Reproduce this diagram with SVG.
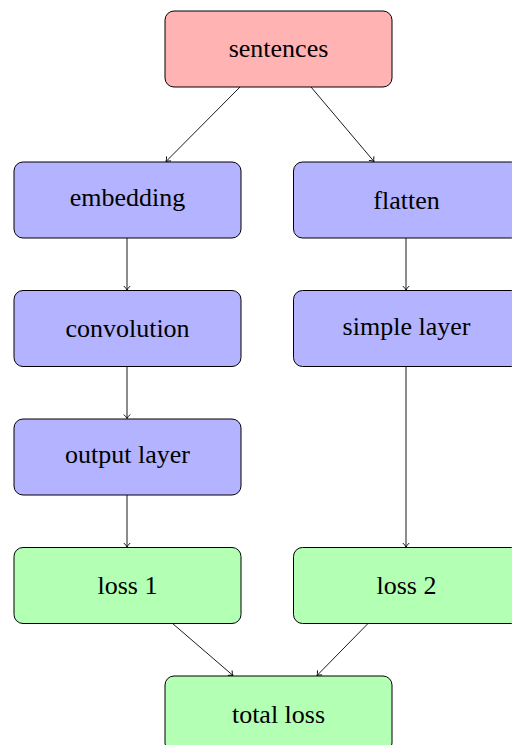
<svg xmlns="http://www.w3.org/2000/svg" width="512" height="745" viewBox="0 0 512 745">
<style>
.box{stroke:#000;stroke-width:1}
.red{fill:#ffb3b3}.blue{fill:#b3b3ff}.green{fill:#b3ffb3}
text{font-family:"Liberation Serif","Times New Roman",serif;font-size:26px;fill:#000;text-anchor:middle}
.edge{stroke:#000;stroke-width:0.9;fill:none;marker-end:url(#arr)}
</style>
<defs>
<marker id="arr" markerUnits="userSpaceOnUse" markerWidth="10" markerHeight="10" viewBox="-6 -5 8 10" refX="0" refY="0" orient="auto">
<path d="M-4,-3.2 Q-1.5,-0.6 0,0 Q-1.5,0.6 -4,3.2" fill="none" stroke="#000" stroke-width="0.9"/>
</marker>
</defs>
<rect width="512" height="745" fill="#fff"/>
<g id="connectors">
<line class="edge" x1="240" y1="87" x2="166" y2="161.5"/>
<line class="edge" x1="311" y1="87" x2="374" y2="161.5"/>
<line class="edge" x1="127" y1="238" x2="127" y2="290"/>
<line class="edge" x1="127" y1="366" x2="127" y2="418.5"/>
<line class="edge" x1="127" y1="494" x2="127" y2="547"/>
<line class="edge" x1="406" y1="238" x2="406" y2="290"/>
<line class="edge" x1="406" y1="366" x2="406" y2="547"/>
<line class="edge" x1="172" y1="623" x2="233" y2="675.5"/>
<line class="edge" x1="368.5" y1="623" x2="317" y2="675.5"/>
</g>
<g id="sentences"><rect class="box red" x="165" y="11" width="227" height="76" rx="9"/><text x="278.5" y="57">sentences</text></g>
<g id="embedding"><rect class="box blue" x="14" y="162" width="227" height="76" rx="9"/><text x="127.5" y="206">embedding</text></g>
<g id="flatten"><rect class="box blue" x="293.5" y="162" width="227" height="76" rx="9"/><text x="406.5" y="209">flatten</text></g>
<g id="convolution"><rect class="box blue" x="14" y="290.5" width="227" height="76" rx="9"/><text x="127.5" y="337">convolution</text></g>
<g id="simple-layer"><rect class="box blue" x="293.5" y="290.5" width="227" height="76" rx="9"/><text x="406.5" y="334.5">simple layer</text></g>
<g id="output-layer"><rect class="box blue" x="14" y="419" width="227" height="76" rx="9"/><text x="127.5" y="463">output layer</text></g>
<g id="loss1"><rect class="box green" x="14" y="547.5" width="227" height="76" rx="9"/><text x="127.5" y="594">loss 1</text></g>
<g id="loss2"><rect class="box green" x="293.5" y="547.5" width="227" height="76" rx="9"/><text x="406.5" y="594">loss 2</text></g>
<g id="total-loss"><rect class="box green" x="165" y="676" width="227" height="76" rx="9"/><text x="278.5" y="723">total loss</text></g>
</svg>
